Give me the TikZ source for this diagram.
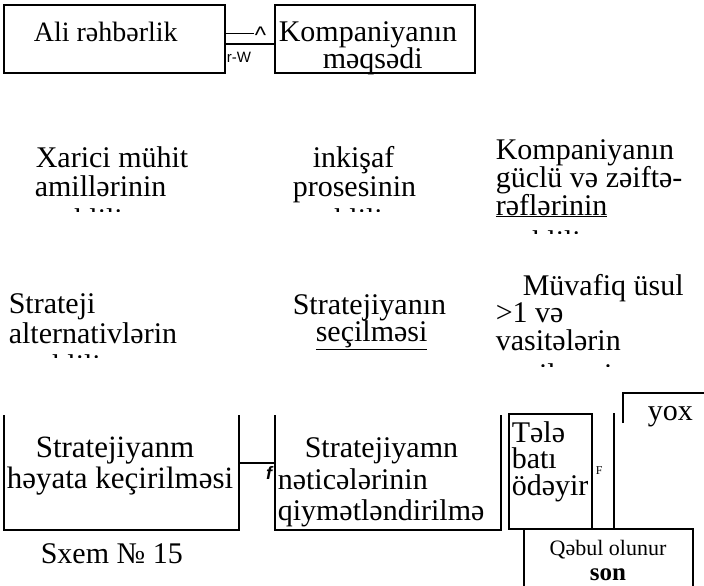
\documentclass[tikz,border=0pt]{standalone}
\usepackage{fontspec}
\setmainfont{Liberation Serif}
\newfontfamily\sansfnt{Liberation Sans}
\begin{document}
\begin{tikzpicture}[x=1pt,y=-1pt,line width=1.6pt,
  txt/.style={inner sep=0pt,anchor=base west,font=\fontsize{30}{34}\selectfont},
  small/.style={inner sep=0pt,anchor=base west,font=\sansfnt\fontsize{15}{17}\selectfont}]
\useasboundingbox[fill=white] (0,0) rectangle (704,586);

% --- top row: two framed boxes joined by a line
\draw (4,5) coordinate (aliNW) rectangle (225,73) coordinate (aliSE);
\draw (275,5) coordinate (mqNW) rectangle (475,73) coordinate (mqSE);
\coordinate (aliR) at (225,44);
\coordinate (mqL) at (275,44);
\draw (aliR) -- (mqL);
\coordinate (tickA) at (225,33);
\coordinate (tickB) at (254,33);
\draw[line width=0.9pt] (tickA) -- (tickB);
\node[inner sep=0pt,anchor=base west,font=\sansfnt\fontsize{24}{26}\selectfont] (caret) at (254,44) {\^{}};
\node[small] (rw) at (226,63) {r-W};
\node[txt,font=\fontsize{28}{32}\selectfont] (ali) at (33,42) {Ali rəhbərlik};
\node[txt] (mq1) at (278,42) {Kompaniyanın};
\node[txt] (mq2) at (322,68) {məqsədi};

% --- second row: texts cut off at the bottom
\begin{scope}
  \clip (0,120) rectangle (704,211);
  \node[txt] (xm1) at (35,167) {Xarici mühit};
  \node[txt] (xm2) at (34,196) {amillərinin};
  \node[txt] (xm3) at (52,229) {təhlili};
  \node[txt] (ik1) at (312,167) {inkişaf};
  \node[txt] (ik2) at (292,196) {prosesinin};
  \node[txt] (ik3) at (312,229) {təhlili};
\end{scope}
\begin{scope}
  \clip (480,120) rectangle (704,233);
  \node[txt] (kg1) at (495,159) {Kompaniyanın};
  \node[txt] (kg2) at (495,187) {güclü və zəiftə-};
  \node[txt] (kg3) at (495,215) {\underline{rəflərinin}};
  \node[txt] (kg4) at (510,251) {təhlili};
\end{scope}

% --- third row
\begin{scope}
  \clip (0,270) rectangle (250,357);
  \node[txt] (sa1) at (8,313) {Strateji};
  \node[txt] (sa2) at (8,343) {alternativlərin};
  \node[txt] (sa3) at (30,375) {təhlili};
\end{scope}
\node[txt] (ss1) at (292,314) {Stratejiyanın};
\node[txt] (ss2) at (315,341) {\underline{seçilməsi}};
\begin{scope}
  \clip (480,260) rectangle (704,366);
  \node[txt] (mu1) at (522,295) {Müvafiq üsul};
  \node[txt] (mu2) at (495,322) {>1 və};
  \node[txt] (mu3) at (495,350) {vasitələrin};
  \node[txt] (mu4) at (500,384) {seçilməsi};
\end{scope}

% --- bottom row: open-topped frames
\coordinate (hkTL) at (4,415);
\coordinate (hkBL) at (4,530);
\coordinate (hkBR) at (239,530);
\coordinate (hkTR) at (239,415);
\draw (hkTL) -- (hkBL) -- (hkBR) -- (hkTR);
\coordinate (nqTL) at (275,415);
\coordinate (nqBL) at (275,530);
\coordinate (nqBR) at (501,530);
\coordinate (nqTR) at (501,415);
\draw (nqTL) -- (nqBL) -- (nqBR) -- (nqTR);
\coordinate (hkJ) at (239,463);
\coordinate (nqJ) at (275,463);
\draw (hkJ) -- (nqJ);
\node[inner sep=0pt,anchor=base east,font=\sansfnt\bfseries\itshape\fontsize{18}{20}\selectfont] (fmark) at (273,479) {f};

\node[txt,font=\fontsize{31}{34}\selectfont] (hk1) at (35,457) {Stratejiyanm};
\node[txt,font=\fontsize{31}{34}\selectfont] (hk2) at (6,488) {həyata keçirilməsi};
\node[txt] (nq1) at (304,457) {Stratejiyamn};
\node[txt] (nq2) at (277,489) {nəticələrinin};
\node[txt] (nq3) at (277,520) {qiymətləndirilmə};

% --- decision block
\draw (509,414) coordinate (tbNW) rectangle (592,529) coordinate (tbSE);
\node[txt] (tb1) at (511,442) {Tələ};
\node[txt] (tb2) at (511,468) {batı};
\node[txt] (tb3) at (511,495) {ödəyir};
\node[inner sep=0pt,anchor=base west,font=\fontsize{12}{14}\selectfont] (fF) at (595,474) {F};
\coordinate (vT) at (614,413);
\coordinate (vB) at (614,529);
\draw (vT) -- (vB);
\coordinate (yxB) at (623,423);
\coordinate (yxC) at (623,393);
\coordinate (yxR) at (704,393);
\draw (yxB) -- (yxC) -- (yxR);
\node[txt] (yox) at (647,420) {yox};
\coordinate (qbBL) at (524,586);
\coordinate (qbTL) at (524,529);
\coordinate (qbTR) at (693,529);
\coordinate (qbBR) at (693,586);
\draw (qbBL) -- (qbTL) -- (qbTR) -- (qbBR);
\node[inner sep=0pt,anchor=base,font=\fontsize{22}{24}\selectfont] (qb1) at (608,555) {Qəbul olunur};
\node[inner sep=0pt,anchor=base,font=\bfseries\fontsize{25}{27}\selectfont] (qb2) at (608,580) {son};

\node[txt] (sxem) at (40,563) {Sxem № 15};
\end{tikzpicture}
\end{document}
